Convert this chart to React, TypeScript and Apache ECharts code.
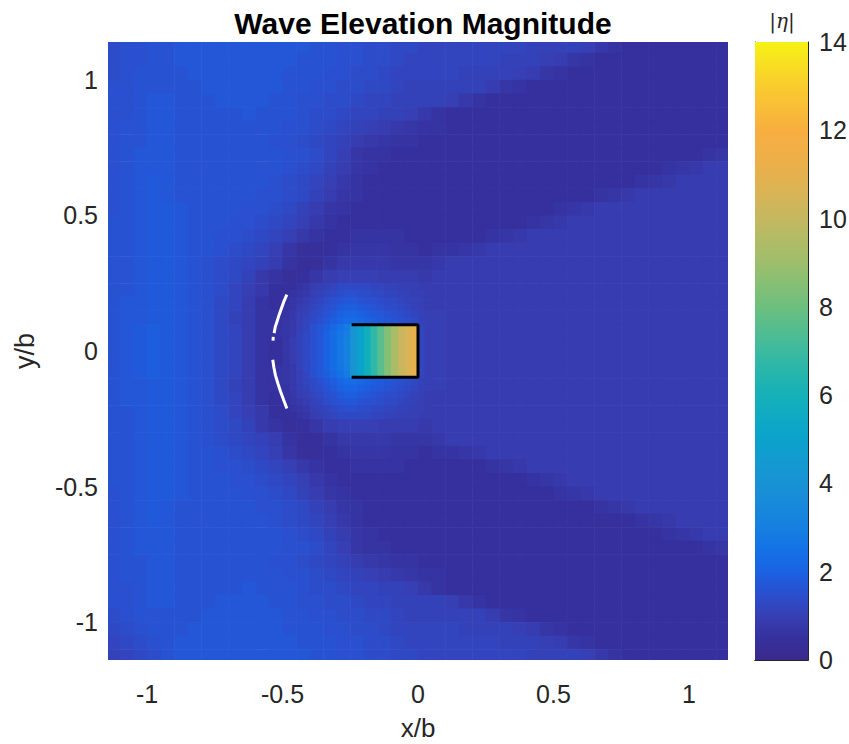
import React, { useEffect, useRef } from 'react';
import * as echarts from 'echarts';

// ---------- data ----------
const xTicks = [-1, -0.5, 0, 0.5, 1];
const yTicks = [-1, -0.5, 0, 0.5, 1];
const cbMin = 0;
const cbMax = 14;

// cell centres of the sampled |eta| field (step 0.05)
const xCenters = [
  -1.125, -1.075, -1.025, -0.975, -0.925, -0.875, -0.825, -0.775, -0.725, -0.675,
  -0.625, -0.575, -0.525, -0.475, -0.425, -0.375, -0.325, -0.275, -0.225, -0.175,
  -0.125, -0.075, -0.025, 0.025, 0.075, 0.125, 0.175, 0.225, 0.275, 0.325,
  0.375, 0.425, 0.475, 0.525, 0.575, 0.625, 0.675, 0.725, 0.775, 0.825,
  0.875, 0.925, 0.975, 1.025, 1.075, 1.125,
];
const yCenters = [
  1.125, 1.075, 1.025, 0.975, 0.925, 0.875, 0.825, 0.775, 0.725, 0.675,
  0.625, 0.575, 0.525, 0.475, 0.425, 0.375, 0.325, 0.275, 0.225, 0.175,
  0.125, 0.075, 0.025, -0.025, -0.075, -0.125, -0.175, -0.225, -0.275, -0.325,
  -0.375, -0.425, -0.475, -0.525, -0.575, -0.625, -0.675, -0.725, -0.775, -0.825,
  -0.875, -0.925, -0.975, -1.025, -1.075, -1.125,
];

// |eta| in tenths, one row per yCenter (top to bottom), one column per xCenter
const etaTenths: number[][] = [
  [14,15,15,16,16,17,17,17,17,17, 17,17,17,17,17,16,16,15,15,14, 14,13,13,12,12,12,12,12,12,12, 12,11,11,11,11,10,8,6,5,5, 5,5,5,5,5,5],
  [14,15,15,16,16,17,17,17,17,17, 17,17,17,17,16,16,16,15,15,14, 14,13,12,12,12,12,12,12,12,11, 11,11,10,9,7,6,5,5,5,5, 5,5,5,5,5,5],
  [14,15,16,16,16,16,17,17,17,17, 17,17,17,16,16,16,15,15,14,14, 13,12,12,12,12,12,11,11,11,11, 10,9,7,6,5,5,5,5,5,5, 5,5,5,5,5,5],
  [15,15,16,16,16,16,16,17,17,17, 17,17,17,16,16,15,15,14,14,13, 13,12,11,11,11,11,11,11,9,7, 6,5,5,5,5,5,5,5,5,5, 5,5,5,5,5,5],
  [15,15,16,17,17,16,16,16,17,17, 17,17,16,16,15,15,14,14,13,12, 12,11,11,11,11,10,8,6,5,5, 5,5,5,5,5,5,5,5,5,5, 5,5,5,5,5,5],
  [15,15,16,17,17,16,16,16,16,16, 17,16,16,16,15,14,14,13,12,12, 11,11,10,8,6,5,5,5,5,5, 5,5,5,5,5,5,5,5,5,5, 5,5,5,5,5,5],
  [15,16,16,17,17,16,16,16,16,16, 16,16,16,15,15,14,13,12,11,10, 9,8,7,6,6,5,5,5,5,5, 5,5,5,5,5,5,5,5,5,5, 5,5,5,5,5,5],
  [15,16,16,17,17,16,16,16,16,16, 16,16,15,15,14,13,12,11,9,8, 7,6,6,5,5,5,5,5,5,5, 5,5,5,5,5,5,5,5,5,5, 5,5,5,5,5,5],
  [15,16,17,17,17,16,16,16,16,16, 16,16,16,15,15,14,12,10,7,6, 6,5,5,5,5,5,5,5,5,5, 5,5,5,5,5,5,5,5,5,5, 5,5,5,5,6,7],
  [15,16,17,17,17,16,16,16,16,16, 16,16,16,15,14,13,11,9,7,6, 5,5,5,5,5,5,5,5,5,5, 5,5,5,5,5,5,5,5,5,5, 5,6,7,8,9,9],
  [15,16,17,18,17,16,16,16,16,16, 16,16,15,14,13,12,10,8,6,5, 5,5,5,5,5,5,5,5,5,5, 5,5,5,5,5,5,5,5,5,6, 7,8,9,9,9,9],
  [15,16,17,18,17,16,16,16,16,16, 16,15,15,14,13,11,9,7,6,5, 5,5,5,5,5,5,5,5,5,5, 5,5,5,5,5,5,6,7,8,9, 9,9,9,9,9,9],
  [15,16,17,18,18,17,16,16,16,16, 15,15,14,13,11,9,7,6,5,5, 5,5,5,5,5,5,5,5,5,5, 5,5,5,6,7,8,9,9,9,9, 9,9,9,9,9,9],
  [16,16,17,18,18,17,16,16,16,15, 15,14,13,12,10,8,6,5,5,5, 5,5,5,5,5,5,5,5,5,5, 5,6,7,8,9,9,9,9,9,9, 9,9,9,9,9,9],
  [16,16,17,18,18,17,16,16,15,15, 14,13,12,10,8,6,5,5,6,6, 6,6,5,5,5,5,5,5,6,7, 8,9,9,9,9,9,9,9,9,9, 9,9,9,9,9,9],
  [16,16,17,18,18,17,16,16,15,14, 13,12,10,7,4,4,5,6,7,7, 7,6,6,5,6,6,7,8,9,9, 9,9,9,9,9,9,9,9,9,9, 9,9,9,9,9,9],
  [16,16,17,18,18,17,16,15,14,13, 12,11,9,6,4,4,6,8,8,8, 8,7,7,7,8,9,9,9,9,9, 9,9,9,9,9,9,9,9,9,9, 9,9,9,9,9,9],
  [16,16,17,18,18,17,16,15,14,13, 11,8,6,4,5,7,9,10,10,10, 9,9,9,8,9,9,9,9,9,9, 9,9,9,9,9,9,9,9,9,9, 9,9,9,9,9,9],
  [16,16,17,18,18,17,16,15,14,12, 10,8,5,6,8,11,13,14,14,13, 12,11,10,9,9,9,9,9,9,9, 9,9,9,9,9,9,9,9,9,9, 9,9,9,9,9,9],
  [16,17,17,18,18,17,16,15,13,12, 9,6,5,7,10,13,16,18,17,15, 14,13,12,10,9,9,9,9,9,9, 9,9,9,9,9,9,9,9,9,9, 9,9,9,9,9,9],
  [16,17,17,18,18,17,16,15,13,11, 9,6,6,8,11,14,18,22,21,19, 17,15,13,11,10,9,9,9,9,9, 9,9,9,9,9,9,9,9,9,9, 9,9,9,9,9,9],
  [16,17,18,19,18,17,16,15,13,12, 9,6,6,8,12,16,21,27,44,62, 80,96,109,11,10,9,9,9,9,9, 9,9,9,9,9,9,9,9,9,9, 9,9,9,9,9,9],
  [16,17,18,19,18,17,16,15,13,12, 9,6,5,8,12,16,22,29,44,62, 80,96,109,11,10,9,9,9,9,9, 9,9,9,9,9,9,9,9,9,9, 9,9,9,9,9,9],
  [16,17,18,19,18,17,16,15,13,12, 9,6,5,8,12,16,22,29,44,62, 80,96,109,11,10,9,9,9,9,9, 9,9,9,9,9,9,9,9,9,9, 9,9,9,9,9,9],
  [16,17,18,19,18,17,16,15,13,12, 9,6,6,8,12,16,21,27,44,62, 80,96,109,11,10,9,9,9,9,9, 9,9,9,9,9,9,9,9,9,9, 9,9,9,9,9,9],
  [16,17,17,18,18,17,16,15,13,11, 9,6,6,8,11,14,18,22,21,19, 17,15,13,11,10,9,9,9,9,9, 9,9,9,9,9,9,9,9,9,9, 9,9,9,9,9,9],
  [16,17,17,18,18,17,16,15,13,12, 9,6,5,7,10,13,16,18,17,15, 14,13,12,10,9,9,9,9,9,9, 9,9,9,9,9,9,9,9,9,9, 9,9,9,9,9,9],
  [16,16,17,18,18,17,16,15,14,12, 10,8,5,6,8,11,13,14,14,13, 12,11,10,9,9,9,9,9,9,9, 9,9,9,9,9,9,9,9,9,9, 9,9,9,9,9,9],
  [16,16,17,18,18,17,16,15,14,13, 11,8,6,4,5,7,9,10,10,10, 9,9,9,8,9,9,9,9,9,9, 9,9,9,9,9,9,9,9,9,9, 9,9,9,9,9,9],
  [16,16,17,18,18,17,16,15,14,13, 12,11,9,6,4,4,6,8,8,8, 8,7,7,7,8,9,9,9,9,9, 9,9,9,9,9,9,9,9,9,9, 9,9,9,9,9,9],
  [16,16,17,18,18,17,16,16,15,14, 13,12,10,7,4,4,5,6,7,7, 7,6,6,5,6,6,7,8,9,9, 9,9,9,9,9,9,9,9,9,9, 9,9,9,9,9,9],
  [16,16,17,18,18,17,16,16,15,15, 14,13,12,10,8,6,5,5,6,6, 6,6,5,5,5,5,5,5,6,7, 8,9,9,9,9,9,9,9,9,9, 9,9,9,9,9,9],
  [16,16,17,18,18,17,16,16,16,15, 15,14,13,12,10,8,6,5,5,5, 5,5,5,5,5,5,5,5,5,5, 5,6,7,8,9,9,9,9,9,9, 9,9,9,9,9,9],
  [15,16,17,18,18,17,16,16,16,16, 15,15,14,13,11,9,7,6,5,5, 5,5,5,5,5,5,5,5,5,5, 5,5,5,6,7,8,9,9,9,9, 9,9,9,9,9,9],
  [15,16,17,18,17,16,16,16,16,16, 16,15,15,14,13,11,9,7,6,5, 5,5,5,5,5,5,5,5,5,5, 5,5,5,5,5,5,6,7,8,9, 9,9,9,9,9,9],
  [15,16,17,18,17,16,16,16,16,16, 16,16,15,14,13,12,10,8,6,5, 5,5,5,5,5,5,5,5,5,5, 5,5,5,5,5,5,5,5,5,6, 7,8,9,9,9,9],
  [15,16,17,17,17,16,16,16,16,16, 16,16,16,15,14,13,11,9,7,6, 5,5,5,5,5,5,5,5,5,5, 5,5,5,5,5,5,5,5,5,5, 5,6,7,8,9,9],
  [15,16,17,17,17,16,16,16,16,16, 16,16,16,15,15,14,12,10,7,6, 6,5,5,5,5,5,5,5,5,5, 5,5,5,5,5,5,5,5,5,5, 5,5,5,5,6,7],
  [15,16,16,17,17,16,16,16,16,16, 16,16,15,15,14,13,12,11,9,8, 7,6,6,5,5,5,5,5,5,5, 5,5,5,5,5,5,5,5,5,5, 5,5,5,5,5,5],
  [15,16,16,17,17,16,16,16,16,16, 16,16,16,15,15,14,13,12,11,10, 9,8,7,6,6,5,5,5,5,5, 5,5,5,5,5,5,5,5,5,5, 5,5,5,5,5,5],
  [15,15,16,17,17,16,16,16,16,16, 17,16,16,16,15,14,14,13,12,12, 11,11,10,8,6,5,5,5,5,5, 5,5,5,5,5,5,5,5,5,5, 5,5,5,5,5,5],
  [15,15,16,17,17,16,16,16,17,17, 17,17,16,16,15,15,14,14,13,12, 12,11,11,11,11,10,8,6,5,5, 5,5,5,5,5,5,5,5,5,5, 5,5,5,5,5,5],
  [14,15,16,16,16,16,16,17,17,17, 17,17,17,16,16,15,15,14,14,13, 13,12,11,11,11,11,11,11,9,7, 6,5,5,5,5,5,5,5,5,5, 5,5,5,5,5,5],
  [13,14,15,16,16,16,17,17,17,17, 17,17,17,16,16,16,15,15,14,14, 13,12,12,12,12,12,11,11,11,11, 10,9,7,6,5,5,5,5,5,5, 5,5,5,5,5,5],
  [12,13,14,15,16,17,17,17,17,17, 17,17,17,17,16,16,16,15,15,14, 14,13,12,12,12,12,12,12,12,11, 11,11,10,9,7,6,5,5,5,5, 5,5,5,5,5,5],
  [11,12,13,14,16,17,17,17,17,17, 17,17,17,17,17,16,16,15,15,14, 14,13,13,12,12,12,12,12,12,12, 12,11,11,11,11,10,8,6,5,5, 5,5,5,5,5,5],
];

// finer sampling around the body (step 0.025)
const nearX = [
  -0.4875, -0.4625, -0.4375, -0.4125, -0.3875, -0.3625, -0.3375, -0.3125, -0.2875, -0.2625,
  -0.2375, -0.2125, -0.1875, -0.1625, -0.1375, -0.1125, -0.0875, -0.0625, -0.0375, -0.0125,
  0.0125, 0.0375,
];
const nearY = [
  0.2375, 0.2125, 0.1875, 0.1625, 0.1375, 0.1125, 0.0875, 0.0625, 0.0375, 0.0125,
  -0.0125, -0.0375, -0.0625, -0.0875, -0.1125, -0.1375, -0.1625, -0.1875, -0.2125, -0.2375,
];
const nearTenths: number[][] = [
  [5,5,6,7,9,10,11,12,13,13, 13,13,13,12,12,11,11,10,10,10, 9,9],
  [5,6,7,8,10,11,12,13,14,15, 15,14,14,13,13,12,12,11,11,10, 10,9],
  [5,7,8,9,11,12,14,15,16,17, 17,16,15,15,14,13,13,12,11,11, 10,9],
  [6,7,9,10,12,13,15,16,18,19, 19,18,17,16,15,14,14,13,12,11, 10,9],
  [6,8,10,11,13,14,16,18,20,21, 21,20,19,18,17,16,15,14,13,12, 11,10],
  [7,8,10,12,13,15,17,19,21,23, 23,22,20,19,18,17,16,15,14,13, 11,10],
  [7,8,10,12,15,17,19,22,25,28, 42,50,58,67,76,85,93,101,106,111, 12,10],
  [7,8,11,13,15,17,20,23,26,30, 42,50,58,67,76,85,93,101,106,111, 12,10],
  [7,9,11,13,15,17,20,23,27,31, 42,50,58,67,76,85,93,101,106,111, 12,10],
  [7,9,11,13,15,17,20,23,27,31, 42,50,58,67,76,85,93,101,106,111, 12,10],
  [7,9,11,13,15,17,20,23,27,31, 42,50,58,67,76,85,93,101,106,111, 12,10],
  [7,9,11,13,15,17,20,23,27,31, 42,50,58,67,76,85,93,101,106,111, 12,10],
  [7,8,11,13,15,17,20,23,26,30, 42,50,58,67,76,85,93,101,106,111, 12,10],
  [7,8,10,12,15,17,19,22,25,28, 42,50,58,67,76,85,93,101,106,111, 12,10],
  [7,8,10,12,13,15,17,19,21,23, 23,22,20,19,18,17,16,15,14,13, 11,10],
  [6,8,10,11,13,14,16,18,20,21, 21,20,19,18,17,16,15,14,13,12, 11,10],
  [6,7,9,10,12,13,15,16,18,19, 19,18,17,16,15,14,14,13,12,11, 10,9],
  [5,7,8,9,11,12,14,15,16,17, 17,16,15,15,14,13,13,12,11,11, 10,9],
  [5,6,7,8,10,11,12,13,14,15, 15,14,14,13,13,12,12,11,11,10, 10,9],
  [5,5,6,7,9,10,11,12,13,13, 13,13,13,12,12,11,11,10,10,10, 9,9],
];

// finer columns inside the body (|eta| in tenths)
const bodyX = [-0.2375, -0.2125, -0.1875, -0.1625, -0.1375, -0.1125, -0.0875, -0.0625, -0.0375, -0.0125];
const bodyTenths = [42, 50, 58, 67, 76, 85, 93, 101, 106, 111];

// body outline (open on its left side)
const bodyOutline = [[-0.245, 0.097], [0, 0.097], [0, -0.097], [-0.245, -0.097]];

// white dashed arc
const arcUpper = [[-0.484, 0.208], [-0.494, 0.185], [-0.503, 0.16], [-0.512, 0.135], [-0.52, 0.11], [-0.527, 0.088], [-0.531, 0.066]];
const arcDot = [[-0.534, 0.052], [-0.535, 0.038]];
const arcLower = [[-0.536, -0.032], [-0.532, -0.06], [-0.526, -0.09], [-0.517, -0.12], [-0.507, -0.15], [-0.496, -0.18], [-0.484, -0.212]];

// ---------- styling ----------
const PARULA = [
  '#3b2a8a', '#36309e', '#373fb4', '#2a4fcf', '#1a62e2', '#1472e6', '#167fe0', '#1789da',
  '#1892d4', '#139ad0', '#0ba2cc', '#0faac4', '#16b0b8', '#26b5ac', '#3cbaa0', '#54bd8f',
  '#6cbf7e', '#85bf75', '#9ebe6c', '#b1bb66', '#c4b860', '#d6b457', '#e6b04e', '#f0af47',
  '#f8ae40', '#f9bd37', '#f9cc2e', '#f8df22', '#f6f214',
];
const CELL = 0.05;
const NEAR_CELL = 0.025;
const BODY_W = 0.025;
const BODY_H = 0.194;
const FONT = 'Liberation Sans';
const TXT = '#262626';

const toCells = (xs: number[], ys: number[], rows: number[][]) => {
  const out: number[][] = [];
  ys.forEach((y, j) => {
    xs.forEach((x, i) => {
      out.push([x, y, rows[j][i] / 10]);
    });
  });
  return out;
};
const fieldData = toCells(xCenters, yCenters, etaTenths);
const nearData = toCells(nearX, nearY, nearTenths);
const bodyData = bodyX.map((x, i) => [x, 0, bodyTenths[i] / 10]);

const cellRenderer = (w: number, h: number) => (params: any, api: any) => {
  const x = api.value(0);
  const y = api.value(1);
  const a = api.coord([x - w / 2, y + h / 2]);
  const b = api.coord([x + w / 2, y - h / 2]);
  const cs = params.coordSys;
  const shape = echarts.graphic.clipRectByRect(
    { x: a[0], y: a[1], width: b[0] - a[0] + 0.6, height: b[1] - a[1] + 0.6 },
    { x: cs.x, y: cs.y, width: cs.width, height: cs.height }
  );
  if (!shape) return null;
  return { type: 'rect', shape, style: { fill: api.visual('color'), stroke: null } };
};

export default function App() {
  const ref = useRef<HTMLDivElement>(null);
  useEffect(() => {
    const chart = echarts.init(ref.current!, undefined, { renderer: 'svg' });
    const stops = PARULA.map((c, i) => ({ offset: i / (PARULA.length - 1), color: c }));
    const cellSeries = (data: number[][], w: number, h: number, z: number) => ({
      type: 'custom', xAxisIndex: 0, yAxisIndex: 0, silent: true, z,
      dimensions: ['x', 'y', 'eta'], encode: { x: 0, y: 1 },
      renderItem: cellRenderer(w, h), data,
    });
    const option: any = {
      animation: false,
      backgroundColor: '#ffffff',
      title: {
        text: 'Wave Elevation Magnitude',
        left: 418,
        top: 3,
        textAlign: 'center',
        textStyle: { fontFamily: FONT, fontWeight: 'bold', fontSize: 30, color: '#000' },
      },
      grid: [
        { left: 108, top: 42, width: 620, height: 618, containLabel: false, outerBoundsMode: 'none' },
        { left: 755, top: 42, width: 53, height: 618, containLabel: false, outerBoundsMode: 'none' },
      ],
      xAxis: [
        {
          type: 'value', gridIndex: 0, min: -1.144, max: 1.144,
          axisLine: { show: false }, axisTick: { show: false, customValues: xTicks }, splitLine: { show: false },
          axisLabel: { customValues: xTicks, margin: 21, fontSize: 25, fontFamily: FONT, color: TXT },
          name: 'x/b', nameLocation: 'middle', nameGap: 55,
          nameTextStyle: { fontSize: 26, fontFamily: FONT, color: TXT },
        },
        { type: 'category', gridIndex: 1, data: ['c'], position: 'bottom', axisLine: { show: true, lineStyle: { color: TXT, width: 1 } }, axisTick: { show: false }, axisLabel: { show: false } },
        { type: 'category', gridIndex: 1, data: ['c'], position: 'top', axisLine: { show: true, lineStyle: { color: TXT, width: 1 } }, axisTick: { show: false }, axisLabel: { show: false } },
      ],
      yAxis: [
        {
          type: 'value', gridIndex: 0, min: -1.14, max: 1.14,
          axisLine: { show: false }, axisTick: { show: false, customValues: yTicks }, splitLine: { show: false },
          axisLabel: { customValues: yTicks, margin: 10, fontSize: 25, fontFamily: FONT, color: TXT },
          name: 'y/b', nameLocation: 'middle', nameGap: 70, nameRotate: 90,
          nameTextStyle: { fontSize: 27, fontFamily: FONT, color: TXT },
        },
        {
          type: 'value', gridIndex: 1, min: cbMin, max: cbMax, interval: 2, position: 'right',
          axisLine: { show: true, lineStyle: { color: TXT, width: 1 } },
          axisTick: { show: true, inside: true, length: 5, lineStyle: { color: TXT } },
          splitLine: { show: false },
          axisLabel: { margin: 11, fontSize: 25, fontFamily: FONT, color: TXT },
        },
        {
          type: 'value', gridIndex: 1, min: cbMin, max: cbMax, position: 'left',
          axisLine: { show: true, lineStyle: { color: TXT, width: 1 } },
          axisTick: { show: false }, axisLabel: { show: false }, splitLine: { show: false },
        },
      ],
      visualMap: {
        type: 'continuous', show: false, min: cbMin, max: cbMax, dimension: 2,
        seriesIndex: [0, 1, 2], inRange: { color: PARULA },
      },
      graphic: [
        {
          type: 'text', x: 782, y: 21, silent: true,
          style: {
            text: '|{i|η}|',
            font: '20px "DejaVu Serif"',
            fill: TXT,
            align: 'center',
            verticalAlign: 'middle',
            rich: { i: { fontStyle: 'italic', fontFamily: 'DejaVu Serif', fontSize: 20, fill: TXT } },
          },
        },
      ],
      series: [
        cellSeries(fieldData, CELL, CELL, 1),
        cellSeries(nearData, NEAR_CELL, NEAR_CELL, 2),
        cellSeries(bodyData, BODY_W, BODY_H, 3),
        {
          type: 'line', xAxisIndex: 0, yAxisIndex: 0, data: bodyOutline, symbol: 'none', silent: true, z: 5,
          lineStyle: { color: '#000', width: 3 },
        },
        {
          type: 'line', xAxisIndex: 0, yAxisIndex: 0, data: arcUpper, symbol: 'none', silent: true, z: 5,
          lineStyle: { color: '#ffffff', width: 3 },
        },
        {
          type: 'line', xAxisIndex: 0, yAxisIndex: 0, data: arcDot, symbol: 'none', silent: true, z: 5,
          lineStyle: { color: '#ffffff', width: 3 },
        },
        {
          type: 'line', xAxisIndex: 0, yAxisIndex: 0, data: arcLower, symbol: 'none', silent: true, z: 5,
          lineStyle: { color: '#ffffff', width: 3 },
        },
        {
          type: 'bar', xAxisIndex: 1, yAxisIndex: 1, data: [cbMax], barWidth: '100%', silent: true, z: 1,
          itemStyle: { color: new echarts.graphic.LinearGradient(0, 1, 0, 0, stops) },
        },
      ],
    };
    chart.setOption(option);
    return () => chart.dispose();
  }, []);
  return (
    <div
      ref={ref}
      style={{ position: 'absolute', left: 0, top: 0, width: 849, height: 744, background: '#fff' }}
    />
  );
}
